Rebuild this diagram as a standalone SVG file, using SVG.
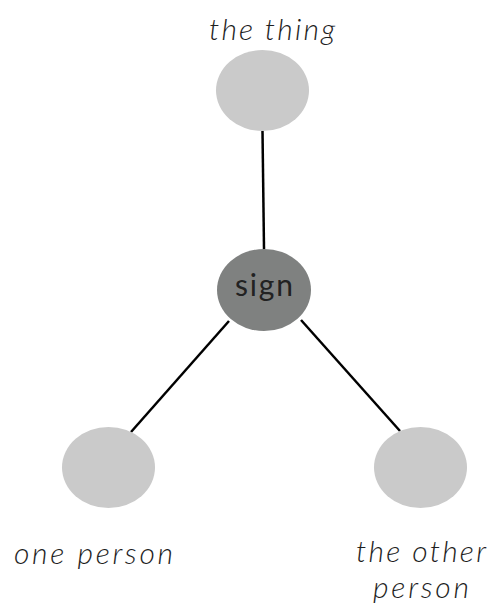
<svg xmlns="http://www.w3.org/2000/svg" width="495" height="608" viewBox="0 0 495 608">
  <style>
    .edge { stroke: #000; stroke-width: 2.5; fill: none; }
    .node { fill: #cacaca; }
    .hub { fill: #7f8180; }
    .label { font-family: Lato, "Open Sans", sans-serif; font-style: italic; font-weight: 300; font-size: 30px; fill: #1e1e1e; text-anchor: middle; }
    .hub-label { font-family: Lato, "Open Sans", sans-serif; font-size: 30px; fill: #222; text-anchor: middle; }
  </style>
  <rect width="495" height="608" fill="#fff"/>
  <g id="connectors">
    <line class="edge" x1="262.5" y1="131" x2="264" y2="249"/>
    <line class="edge" x1="229" y1="321" x2="131" y2="432"/>
    <line class="edge" x1="301" y1="320" x2="400" y2="431"/>
  </g>
  <g id="thing">
    <ellipse class="node" cx="262.5" cy="90.5" rx="46.5" ry="40.5"/>
    <text class="label" x="272" y="40" textLength="126" lengthAdjust="spacing">the thing</text>
  </g>
  <g id="sign">
    <ellipse class="hub" cx="264" cy="290" rx="47" ry="41"/>
    <text class="hub-label" x="264" y="296" textLength="58" lengthAdjust="spacing">sign</text>
  </g>
  <g id="one-person">
    <ellipse class="node" cx="108.5" cy="467.5" rx="46.5" ry="40.5"/>
    <text class="label" x="93.5" y="564" textLength="159" lengthAdjust="spacing">one person</text>
  </g>
  <g id="other-person">
    <ellipse class="node" cx="420.5" cy="467.5" rx="46.5" ry="40.5"/>
    <!-- two-line label kept in one text element -->
    <text class="label"><tspan x="421" y="562" textLength="130" lengthAdjust="spacing">the other</tspan><tspan x="421" y="598" textLength="96" lengthAdjust="spacing">person</tspan></text>
  </g>
</svg>
